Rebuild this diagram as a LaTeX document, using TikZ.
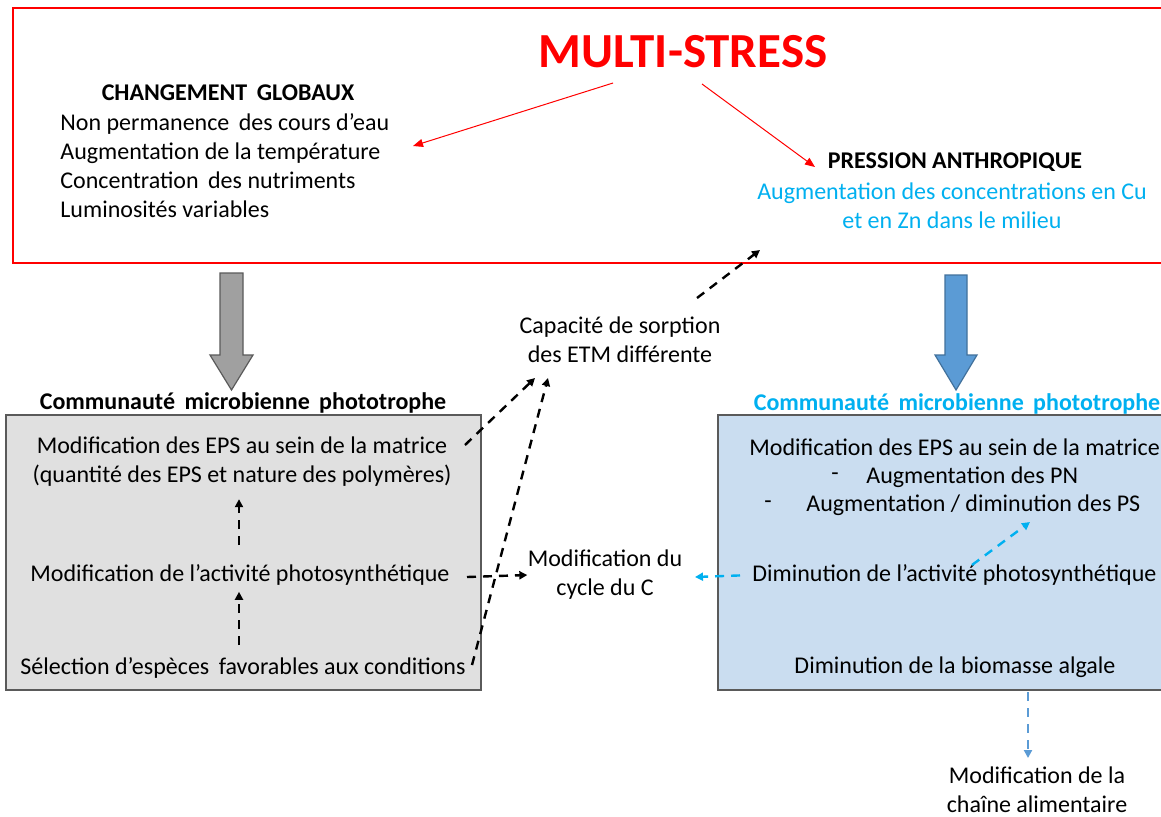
\documentclass[tikz,border=0pt]{standalone}
\usepackage{fontspec}
\setmainfont{Carlito}
\usetikzlibrary{arrows.meta,positioning,calc}
\definecolor{stressred}{RGB}{255,0,0}
\definecolor{anthblue}{RGB}{0,176,240}
\definecolor{arrowblue}{RGB}{91,155,213}
\definecolor{arrowblueedge}{RGB}{65,113,156}
\definecolor{boxgrey}{RGB}{224,224,224}
\definecolor{boxblue}{RGB}{202,221,240}
\definecolor{edgegrey}{RGB}{90,90,90}
\definecolor{shaftgrey}{RGB}{160,160,160}

\begin{document}
\begin{tikzpicture}[x=0.5pt, y=-0.5pt, font=\fontsize{12}{14.5}\selectfont,
    txt/.style={inner sep=0pt, align=center},
    head/.style={inner sep=0pt, font=\fontsize{12}{14.5}\selectfont\bfseries},
    panel/.style={rectangle, draw=edgegrey, line width=0.7pt, inner sep=0pt},
    redarr/.style={-{Triangle[length=5pt,width=4pt]}, stressred, line width=0.5pt},
    dasharr/.style={-{Triangle[length=4pt,width=4pt]}, line width=1.2pt, dash pattern=on 4.5pt off 3.5pt},
    fatarrow/.style={line width=0.6pt, line join=miter}]
\clip (0,0) rectangle (1161,816);
\fill[white] (0,0) rectangle (1161,816);
% multi-stress frame
\node[panel, draw=stressred, line width=1pt, minimum width=578.5pt, minimum height=127.5pt] (frame) at (591.5,135.5) {};
\node[txt, text=stressred, font=\fontsize{24.5}{28}\selectfont\bfseries] (ms) at (683,52) {MULTI-STRESS};
% changements globaux
\node[head] (cg) at (228,93) {CHANGEMENT\, GLOBAUX};
\node[txt, align=left, anchor=west] (glob) at (60,166) {Non permanence\, des cours d’eau\\Augmentation de la température\\Concentration\, des nutriments\\Luminosités variables};
% pression anthropique
\node[head] (pa) at (955,162) {PRESSION ANTHROPIQUE};
\node[txt, text=anthblue] (cucn) at (952,206) {Augmentation des concentrations en Cu\\et en Zn dans le milieu};
\coordinate (msl) at (613,83);
\coordinate (globtip) at (413,146);
\coordinate (msr) at (702,84);
\coordinate (patip) at (815,167);
\draw[redarr] (msl) -- (globtip);
\draw[redarr] (msr) -- (patip);
% big arrows down to the communities
\draw[fatarrow, draw=edgegrey, fill=shaftgrey] (220,273) -- (243,273) -- (243,355) -- (253,355) -- (231.5,390) -- (210,355) -- (220,355) -- cycle;
\draw[fatarrow, draw=arrowblueedge, fill=arrowblue] (945,275) -- (967,275) -- (967,355) -- (977,355) -- (956,390) -- (935,355) -- (945,355) -- cycle;
% left community
\node[head] (cl) at (243,403) {Communauté\, microbienne\, phototrophe};
\node[panel, fill=boxgrey, minimum width=237.5pt, minimum height=137.5pt] (boxl) at (243.5,552.5) {};
\node[txt] (epsl) at (242,462) {Modification des EPS au sein de la matrice\\(quantité des EPS et nature des polymères)};
\node[txt] (photol) at (240,575) {Modification de l’activité photosynthétique};
\node[txt] (sel) at (243,668) {Sélection d’espèces\, favorables aux conditions};
\coordinate (s1) at (239,645);
\draw[dasharr, shorten >=3pt] (s1) -- (photol.south -| s1);
\coordinate (p1) at (239,545);
\draw[dasharr, shorten >=6pt] (p1) -- (epsl.south -| p1);
% middle labels
\node[txt] (cap) at (620,340) {Capacité de sorption\\des ETM différente};
\node[txt] (cyc) at (605,575) {Modification du\\cycle du C};
\coordinate (captop) at (697,298);
\coordinate (framehit) at (760,250);
\draw[dasharr] (captop) -- (framehit);
\coordinate (epsout) at (465,445);
\coordinate (capin1) at (535,378);
\coordinate (selout) at (472,665);
\coordinate (capin2) at (548,378);
\draw[dasharr] (epsout) -- (capin1);
\draw[dasharr] (selout) -- (capin2);
\draw[dasharr] (467,577) -- (cyc.west);
% right community
\node[head, text=anthblue] (cr) at (957,404) {Communauté\, microbienne\, phototrophe};
\node[panel, fill=boxblue, minimum width=226pt, minimum height=137.5pt] (boxr) at (944,552.5) {};
\node[txt, anchor=west] (epsr) at (749,447) {Modification des EPS au sein de la matrice};
\node[txt] (pnd) at (835,477) {-};
\node[txt, anchor=west] (pn) at (866,477) {Augmentation des PN};
\node[txt] (psd) at (768,505) {-};
\node[txt, anchor=west] (ps) at (806,505) {Augmentation / diminution des PS};
\node[txt, anchor=west] (photor) at (752,575) {Diminution de l’activité photosynthétique};
\node[txt] (bio) at (955,667) {Diminution de la biomasse algale};
\node[txt] (chain) at (1037,790) {Modification de la\\chaîne alimentaire};
\draw[dasharr, anthblue] (972,565) -- (1030,522);
\draw[dasharr, anthblue, shorten <=6pt] (photor.west) -- (695,577);
\draw[dasharr, arrowblue] (1028,692) -- (1028,758);
\end{tikzpicture}
\end{document}
